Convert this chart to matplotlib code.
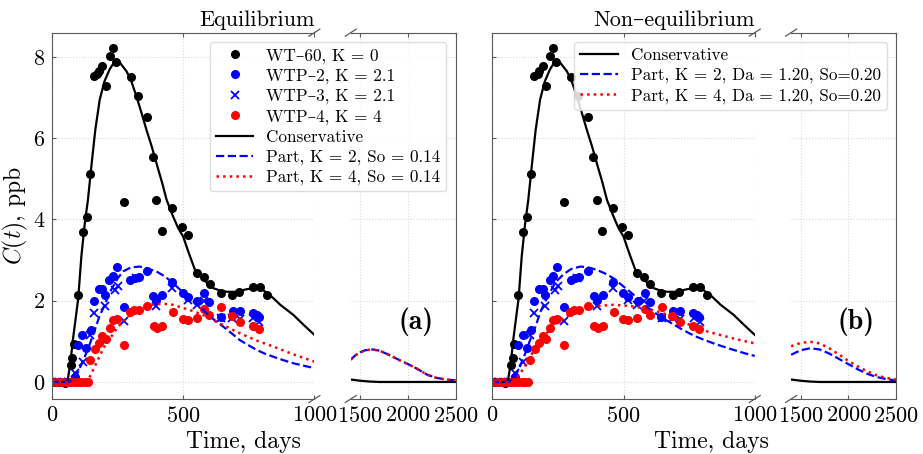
import matplotlib.pyplot as plt

plt.rcParams['font.family'] = ['cmr10', 'DejaVu Serif']
plt.rcParams['mathtext.fontset'] = 'cm'
plt.rcParams['axes.formatter.use_mathtext'] = True
plt.rcParams['axes.unicode_minus'] = False

# measured concentrations (same in both panels)
wt60_t = [4, 23, 48, 71, 78, 83, 99, 118, 134, 146, 160, 173, 179, 192, 205, 220, 233, 244,
          274, 300, 328, 364, 384, 398, 418, 459, 496, 517, 553, 579, 601, 643, 687, 712,
          766, 791, 818]
wt60_c = [0.0, 0.0, -0.02, 0.41, 0.59, 0.94, 2.15, 3.69, 4.07, 5.12, 7.54, 7.59, 7.65, 7.79,
          7.29, 8.03, 8.21, 7.88, 4.44, 7.52, 7.03, 6.53, 5.55, 4.49, 3.72, 4.28, 3.82, 3.61,
          2.69, 2.59, 2.42, 2.19, 2.14, 2.22, 2.35, 2.35, 2.15]

wtp2_t = [0, 20, 40, 60, 87, 99, 116, 131, 148, 160, 179, 192, 201, 218, 233, 246, 275, 299,
          316, 332, 364, 386, 398, 421, 459, 498, 517, 554, 580, 599, 644, 689, 716, 765, 780, 789]
wtp2_c = [0.0, 0.0, 0.0, 0.0, 0.13, 0.91, 1.16, 0.83, 1.28, 2.0, 2.3, 2.3, 2.14, 2.51, 2.61,
          2.84, 1.85, 2.51, 2.55, 2.58, 2.72, 2.11, 2.02, 2.14, 2.45, 2.2, 2.1, 1.99, 2.18, 1.97,
          1.61, 1.75, 1.75, 1.69, 1.65, 1.61]

wtp3_t = [0, 20, 40, 60, 87, 118, 144, 160, 201, 239, 252, 274, 322, 398, 459, 517, 553, 579,
          646, 687, 716, 767, 790]
wtp3_c = [0.0, 0.0, 0.0, 0.0, 0.22, 0.48, 1.15, 1.7, 1.86, 2.27, 2.36, 1.49, 2.57, 1.88, 2.31,
          2.03, 1.9, 1.99, 1.58, 1.58, 1.56, 1.57, 1.48]

wtp4_t = [0, 20, 40, 60, 74, 86, 99, 112, 124, 137, 144, 163, 179, 192, 205, 220, 233, 246, 275,
          297, 313, 330, 364, 388, 401, 421, 462, 498, 517, 551, 580, 599, 646, 685, 716, 765, 789]
wtp4_c = [0.0, 0.0, 0.0, 0.0, 0.0, 0.0, 0.0, 0.0, 0.0, 0.0, 0.53, 0.8, 0.97, 1.12, 1.05, 1.34,
          1.53, 1.54, 0.91, 1.73, 1.77, 1.76, 1.88, 1.38, 1.32, 1.38, 1.73, 1.55, 1.53, 1.57,
          1.79, 1.65, 1.85, 1.63, 1.48, 1.37, 1.31]

# conservative model (both panels)
cons_t = [0, 50, 60, 70, 80, 90, 100, 112, 125, 137, 150, 165, 182, 200, 220, 239, 260, 284,
          300, 322, 340, 360, 380, 398, 420, 437, 460, 480, 500, 520, 545, 580, 615, 640, 666,
          700, 740, 767, 800, 831, 870, 920, 960, 1000]
cons_c = [0, 0, 0.05, 0.45, 1.05, 1.55, 2.05, 3.09, 3.9, 4.48, 5.3, 6.2, 6.95, 7.4, 7.7, 7.89,
          7.85, 7.65, 7.45, 7.03, 6.65, 6.21, 5.8, 5.39, 4.9, 4.48, 4.1, 3.8, 3.58, 3.2, 2.76,
          2.5, 2.31, 2.25, 2.22, 2.22, 2.28, 2.31, 2.28, 2.14, 1.9, 1.65, 1.4, 1.16]
cons_tail_t = [1400, 1500, 1600, 1700, 2500]
cons_tail_c = [0.06, 0.03, 0.01, 0.0, 0.0]

# equilibrium model
eq2_t = [0, 60, 80, 100, 125, 145, 163, 180, 201, 220, 250, 271, 300, 335, 360, 398, 430, 462,
         500, 526, 560, 589, 620, 653, 690, 716, 750, 780, 810, 844, 880, 920, 960, 1000]
eq2_c = [0, 0, 0.05, 0.25, 0.62, 0.95, 1.28, 1.6, 1.9, 2.2, 2.55, 2.72, 2.82, 2.84, 2.8, 2.72,
         2.6, 2.43, 2.2, 2.06, 1.87, 1.69, 1.52, 1.36, 1.17, 1.03, 0.9, 0.79, 0.7, 0.62, 0.54,
         0.46, 0.4, 0.34]
eq4_t = [0, 120, 135, 150, 170, 190, 210, 230, 250, 280, 310, 344, 398, 430, 462, 500, 526, 560,
         589, 620, 653, 690, 716, 780, 844, 920, 1000]
eq4_c = [0, 0, 0.02, 0.2, 0.48, 0.75, 1.0, 1.15, 1.35, 1.55, 1.72, 1.85, 1.92, 1.92, 1.9, 1.82,
         1.77, 1.69, 1.61, 1.5, 1.4, 1.28, 1.2, 1.02, 0.87, 0.68, 0.5]
eq_tail_t = [1400, 1450, 1500, 1550, 1630, 1700, 1800, 1900, 2000, 2100, 2200, 2300, 2400, 2500]
eq_tail_c = [0.55, 0.66, 0.73, 0.78, 0.8, 0.77, 0.67, 0.55, 0.44, 0.32, 0.18, 0.1, 0.06, 0.04]

# non-equilibrium model
ne2_t = [0, 60, 75, 86, 100, 126, 145, 164, 185, 207, 240, 271, 300, 335, 360, 398, 430, 462,
         500, 525, 560, 589, 620, 652, 690, 716, 750, 779, 810, 843, 880, 919, 960, 1000]
ne2_c = [0, 0, 0.05, 0.13, 0.3, 0.71, 1.05, 1.36, 1.75, 2.05, 2.45, 2.65, 2.78, 2.84, 2.83, 2.76,
         2.67, 2.55, 2.35, 2.22, 2.02, 1.85, 1.7, 1.56, 1.42, 1.32, 1.2, 1.11, 1.03, 0.95, 0.87,
         0.79, 0.71, 0.64]
ne4_t = [0, 60, 80, 93, 110, 130, 144, 170, 207, 240, 271, 300, 335, 398, 462, 525, 589, 652,
         716, 779, 843, 919, 1000]
ne4_c = [0, 0, 0.03, 0.09, 0.25, 0.45, 0.62, 0.9, 1.2, 1.42, 1.56, 1.68, 1.77, 1.87, 1.9, 1.87,
         1.81, 1.69, 1.52, 1.32, 1.2, 1.07, 0.95]
ne_tail_t = [1400, 1500, 1600, 1700, 1800, 1900, 2000, 2100, 2200, 2300, 2400, 2500]
ne2_tail_c = [0.67, 0.78, 0.83, 0.8, 0.7, 0.57, 0.44, 0.31, 0.2, 0.12, 0.07, 0.04]
ne4_tail_c = [0.88, 0.96, 0.99, 0.95, 0.83, 0.68, 0.52, 0.38, 0.26, 0.16, 0.1, 0.06]

SPINE = '0.35'
fig = plt.figure(figsize=(9.23, 4.54), dpi=100)


def setup(ax, xlim, xticks, main):
    ax.set_xlim(*xlim)
    ax.set_ylim(-0.42, 8.6)
    ax.set_xticks(xticks)
    ax.set_yticks([0, 2, 4, 6, 8])
    ax.grid(True, color='0.85', linestyle=':', linewidth=0.8)
    ax.tick_params(direction='in', top=True, length=3, color=SPINE, labelsize=16, pad=5)
    for s in ax.spines.values():
        s.set_color(SPINE)
    if main:
        ax.spines['right'].set_visible(False)
        ax.tick_params(right=False)
    else:
        ax.spines['left'].set_visible(False)
        ax.tick_params(left=False, labelleft=False)


def breakmarks(ax, side):
    w = ax.get_position().width * 923
    h = ax.get_position().height * 454
    dx, dy = 5.5 / w, 3.5 / h
    x = 1.0 if side == 'right' else 0.0
    kw = dict(transform=ax.transAxes, color=SPINE, clip_on=False, lw=0.9)
    for y in (0, 1):
        ax.plot((x - dx, x + dx), (y - dy, y + dy), **kw)


def panel(x0, m2, m4, t2, t4, tail_t, tail2, tail4, lab2, lab4, title, tag, full):
    ax = fig.add_axes([x0, 0.1211, 0.2843, 0.807])
    bx = fig.add_axes([x0 + 0.3237, 0.1211, 0.1136, 0.807])
    ax.set_zorder(3)
    setup(ax, (0, 1000), [0, 500, 1000], True)
    setup(bx, (1400, 2500), [1500, 2000, 2500], False)

    h1, = ax.plot(wt60_t, wt60_c, 'o', color='black', ms=5.5, label='WT–60, K = 0')
    h2, = ax.plot(wtp2_t, wtp2_c, 'o', color='blue', ms=5.5, label='WTP–2, K = 2.1')
    h3, = ax.plot(wtp3_t, wtp3_c, 'x', color='blue', ms=5.5, mew=1.3, label='WTP–3, K = 2.1')
    h4, = ax.plot(wtp4_t, wtp4_c, 'o', color='red', ms=5.5, label='WTP–4, K = 4')
    l1, = ax.plot(cons_t, cons_c, '-', color='black', lw=1.6, label='Conservative')
    l2, = ax.plot(t2, m2, '--', color='blue', lw=1.6, label=lab2)
    l3, = ax.plot(t4, m4, ':', color='red', lw=1.8, label=lab4)
    bx.plot(cons_tail_t, cons_tail_c, '-', color='black', lw=1.6)
    bx.plot(tail_t, tail2, '--', color='blue', lw=1.6)
    bx.plot(tail_t, tail4, ':', color='red', lw=1.8)

    handles = [h1, h2, h3, h4, l1, l2, l3] if full else [l1, l2, l3]
    leg = ax.legend(handles=handles, loc='upper right', bbox_to_anchor=(1.503, 0.975),
                    borderaxespad=0, fontsize=12.3, numpoints=1, handlelength=2.2,
                    handletextpad=0.75, labelspacing=0.27, borderpad=0.35, framealpha=0.85,
                    edgecolor='0.85', fancybox=True)
    leg.set_zorder(10)

    breakmarks(ax, 'right')
    breakmarks(bx, 'left')
    bx.text(0.62, 0.21, tag, transform=bx.transAxes, ha='center', va='center',
            fontsize=20, fontfamily='cmb10')
    fig.text(x0 + 0.2843, 0.956, title, ha='right', va='center', fontsize=16)
    return ax


ax_a = panel(0.0563, eq2_c, eq4_c, eq2_t, eq4_t, eq_tail_t, eq_tail_c, eq_tail_c,
             'Part, K = 2, So = 0.14', 'Part, K = 4, So = 0.14', 'Equilibrium', '(a)', True)
ax_b = panel(0.5334, ne2_c, ne4_c, ne2_t, ne4_t, ne_tail_t, ne2_tail_c, ne4_tail_c,
             'Part, K = 2, Da = 1.20, So=0.20', 'Part, K = 4, Da = 1.20, So=0.20',
             'Non–equilibrium', '(b)', False)
ax_b.tick_params(labelleft=False)
ax_a.set_ylabel('$C(t)$, ppb', fontsize=17, labelpad=2)

fig.text(243 / 923, 0.026, 'Time, days', ha='center', va='center', fontsize=17)
fig.text(711 / 923, 0.026, 'Time, days', ha='center', va='center', fontsize=17)

fig.savefig('out.png', dpi=100)
